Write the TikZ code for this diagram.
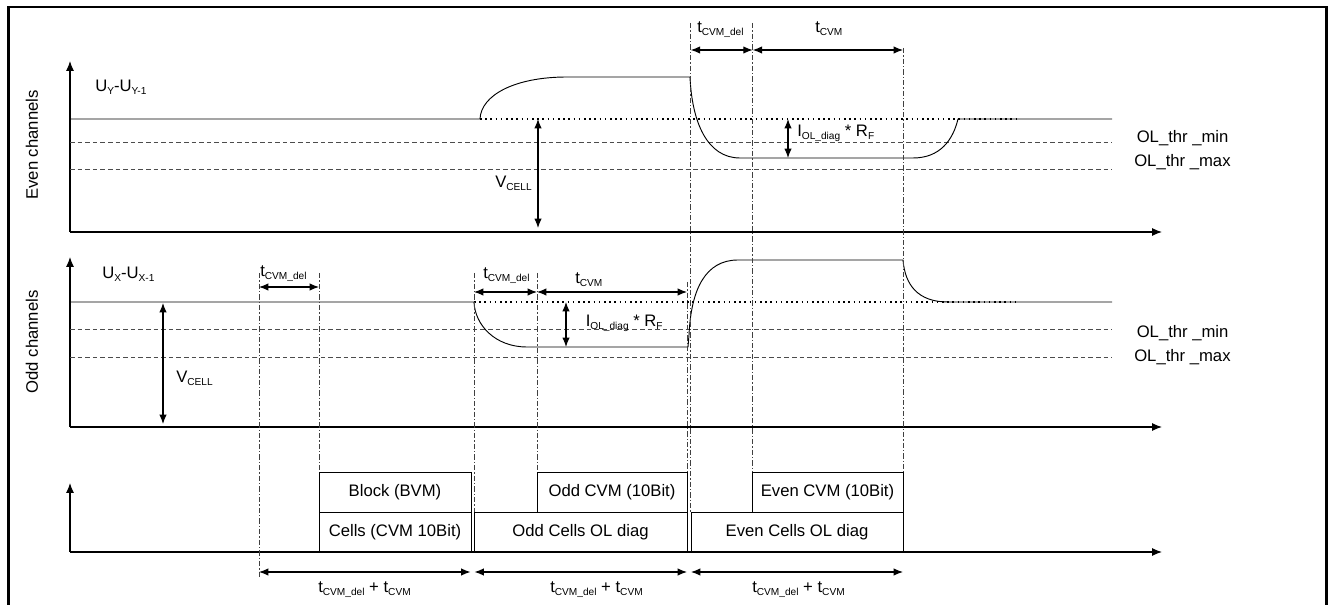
\documentclass[tikz,border=0pt]{standalone}
\usepackage{fontspec}
\setmainfont{Liberation Sans}
\usetikzlibrary{arrows.meta}
\newcommand\sbx[1]{\raisebox{-0.3ex}{\fontsize{7.6}{8}\selectfont #1}}
\begin{document}
\begin{tikzpicture}[x=0.75pt,y=-0.75pt,
  font=\fontsize{12.5}{14}\selectfont,
  axis/.style={line width=0.8pt,-{Latex[length=7.5pt,width=6pt]}},
  sig/.style={line width=0.7pt},
  thr/.style={line width=0.7pt, draw=black!70, dash pattern=on 3.5pt off 2.2pt},
  dotl/.style={line width=1.2pt, dash pattern=on 1.2pt off 2.7pt},
  vline/.style={line width=0.5pt, draw=black!75, dash pattern=on 4pt off 1.6pt on 0.8pt off 1.6pt},
  dim/.style={line width=0.8pt,{Latex[length=7pt,width=5.5pt]}-{Latex[length=7pt,width=5.5pt]}},
  lbl/.style={inner sep=0pt, anchor=base west},
  box/.style={draw, line width=0.6pt, inner sep=0pt, minimum height=30pt}]
\useasboundingbox (0,0) rectangle (1332,605);
% frame
\draw[line width=1.6pt] (8.5,606) -- (8.5,7) -- (1326.5,7) -- (1326.5,606);

% ---------- axes ----------
\coordinate (eO) at (70,232);
\coordinate (eY) at (70,61);
\coordinate (eX) at (1162,232);
\coordinate (oO) at (70,427);
\coordinate (oY) at (70,257);
\coordinate (oX) at (1162,427);
\coordinate (bO) at (70,552);
\coordinate (bY) at (70,483);
\coordinate (bX) at (1162,552);
\draw[axis] (eO) -- (eY);
\draw[axis] (eO) -- (eX);
\draw[axis] (oO) -- (oY);
\draw[axis] (oO) -- (oX);
\draw[axis] (bO) -- (bY);
\draw[axis] (bO) -- (bX);

\node[rotate=90] (evenlbl) at (32,145) {Even channels};
\node[rotate=90] (oddlbl) at (32,342) {Odd channels};
\node[lbl] (uy) at (95,92) {U\sbx{Y}-U\sbx{Y-1}};
\node[lbl] (ux) at (102,279) {U\sbx{X}-U\sbx{X-1}};

% ---------- thresholds ----------
\draw[thr] (70,142) -- (1112,142);
\draw[thr] (70,169) -- (1112,169);
\draw[thr] (70,329) -- (1112,329);
\draw[thr] (70,357) -- (1112,357);
\node[lbl] (emin) at (1136.5,143) {OL\_thr \_min};
\node[lbl] (emax) at (1134,167) {OL\_thr \_max};
\node[lbl] (omin) at (1136.5,338) {OL\_thr \_min};
\node[lbl] (omax) at (1134,362) {OL\_thr \_max};

% ---------- dotted references ----------
\draw[dotl] (480,119) -- (1018,119);
\draw[dotl] (474,302) -- (1018,302);

% ---------- signals ----------
\draw[sig] (70,119) -- (480,119) .. controls (481,95) and (515,77) .. (567,77) -- (690,77)
  .. controls (692,122) and (707,158) .. (740,158) -- (913,158)
  .. controls (940,158) and (953,140) .. (958,119) -- (1112,119);
\draw[sig] (70,302) -- (474,302) .. controls (475,325) and (495,347) .. (527,347) -- (688,347)
  -- (689,335) .. controls (691,290) and (705,260) .. (738,260) -- (903,260)
  .. controls (905,285) and (918,302) .. (948,302) -- (1112,302);

% ---------- vertical dash-dot lines ----------
\draw[vline] (690.7,23) -- (690.7,512);
\draw[vline] (752.7,23) -- (752.7,472);
\draw[vline] (903,48) -- (903,472);
\draw[vline] (259,273) -- (259,578);
\draw[vline] (319,273) -- (319,472);
\draw[vline] (474,273) -- (474,512);
\draw[vline] (537,273) -- (537,472);
\draw[vline] (687,282) -- (687,472);

% ---------- dimension arrows, even ----------
\coordinate (d1a) at (690.7,50);
\coordinate (d1b) at (752.7,50);
\coordinate (d1c) at (903,50);
\draw[dim] (d1a) -- (d1b);
\draw[dim] (d1b) -- (d1c);
\node[lbl] (t1) at (697,32.5) {t\sbx{CVM\_del}};
\node[lbl] (t2) at (815,32.5) {t\sbx{CVM}};
\coordinate (ve1) at (538,119);
\coordinate (ve2) at (538,228);
\draw[dim] (ve1) -- (ve2);
\node[lbl] (vc1) at (495,188) {V\sbx{CELL}};
\coordinate (ie1) at (788,119);
\coordinate (ie2) at (788,158);
\draw[dim] (ie1) -- (ie2);
\node[lbl] (ir1) at (797,137) {I\sbx{OL\_diag} * R\sbx{F}};

% ---------- dimension arrows, odd ----------
\coordinate (d2a) at (259,287);
\coordinate (d2b) at (319,287);
\draw[dim] (d2a) -- (d2b);
\node[lbl] (t3) at (260,277) {t\sbx{CVM\_del}};
\coordinate (d3a) at (474,292);
\coordinate (d3b) at (537,292);
\coordinate (d3c) at (687,292);
\draw[dim] (d3a) -- (d3b);
\draw[dim] (d3b) -- (d3c);
\node[lbl] (t4) at (483,279) {t\sbx{CVM\_del}};
\node[lbl] (t5) at (575,284) {t\sbx{CVM}};
\coordinate (vo1) at (163,303);
\coordinate (vo2) at (163,424);
\draw[dim] (vo1) -- (vo2);
\node[lbl] (vc2) at (176,383) {V\sbx{CELL}};
\coordinate (io1) at (566,302);
\coordinate (io2) at (566,347);
\draw[dim] (io1) -- (io2);
\node[lbl] (ir2) at (585.5,327) {I\sbx{OL\_diag} * R\sbx{F}};

% ---------- boxes ----------
\node[box, minimum width=114pt] (blk) at (395,492) {Block (BVM)};
\node[box, minimum width=114pt] (cel) at (395,532) {Cells (CVM 10Bit)};
\node[box, minimum width=112.5pt] (ocvm) at (612,492) {Odd CVM (10Bit)};
\node[box, minimum width=159.75pt] (ocel) at (580.5,532) {Odd Cells OL diag};
\node[box, minimum width=113.25pt] (ecvm) at (827.5,492) {Even CVM (10Bit)};
\node[box, minimum width=159pt] (ecel) at (797,532) {Even Cells OL diag};

% ---------- bottom dimension arrows ----------
\coordinate (b1a) at (259,572);
\coordinate (b1b) at (470.5,572);
\coordinate (b2a) at (474.5,572);
\coordinate (b2b) at (687,572);
\coordinate (b3a) at (691,572);
\coordinate (b3b) at (903,572);
\draw[dim] (b1a) -- (b1b);
\draw[dim] (b2a) -- (b2b);
\draw[dim] (b3a) -- (b3b);
\node[lbl] (s1) at (318,593) {t\sbx{CVM\_del} + t\sbx{CVM}};
\node[lbl] (s2) at (550,593) {t\sbx{CVM\_del} + t\sbx{CVM}};
\node[lbl] (s3) at (752,593) {t\sbx{CVM\_del} + t\sbx{CVM}};
\end{tikzpicture}
\end{document}
